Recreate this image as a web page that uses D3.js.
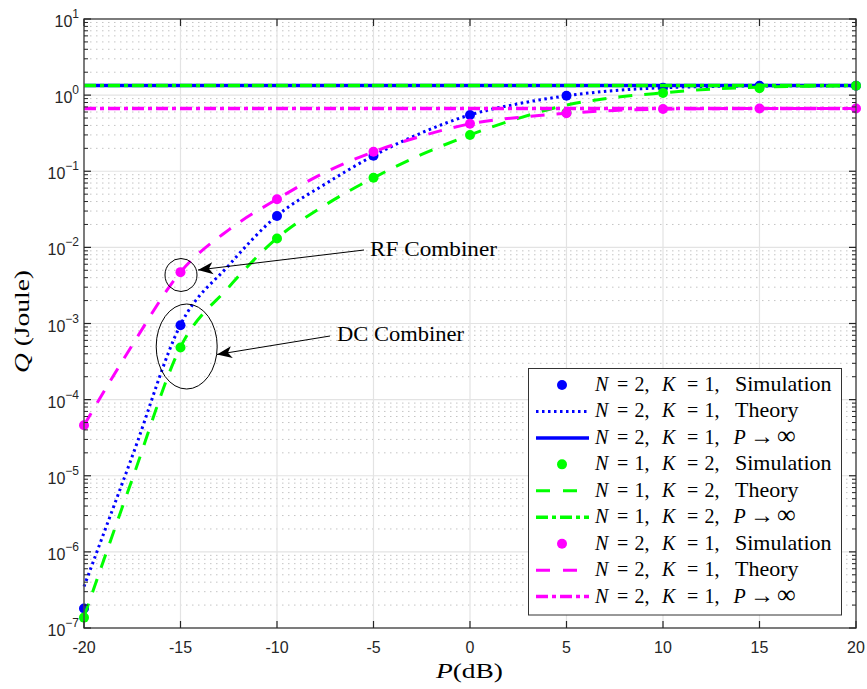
<!DOCTYPE html>
<html>
<head>
<meta charset="utf-8">
<script src="https://cdn.jsdelivr.net/npm/d3@7"></script>
<style>
  body { margin: 0; background: #fff; }
  svg { display: block; }
</style>
</head>
<body>
<svg id="chart" width="867" height="689"></svg>
<script>
// ---- data -------------------------------------------------------------
// transmit power P (dB) at which the simulation was run
const pSim = [-20, -15, -10, -5, 0, 5, 10, 15, 20];
// power grid for the analytical curves
const pTheory = [-20, -17.5, -15, -12.5, -10, -7.5, -5, -2.5, 0, 2.5, 5, 7.5, 10, 12.5, 15, 17.5, 20];

// N = 2, K = 1 (DC combiner)
const simN2K1    = [1.8e-7, 9.5e-4, 0.0258, 0.16, 0.548, 0.98, 1.25, 1.33, 1.33];
const theoryN2K1 = [3.5e-7, 1.8e-5, 9.6e-4, 5.8e-3, 0.026, 0.068, 0.16, 0.32, 0.55, 0.77, 0.98, 1.15, 1.25, 1.30, 1.32, 1.33, 1.333];
const limitN2K1  = 1.333;

// N = 1, K = 2 (DC combiner)
const simN1K2    = [1.37e-7, 4.85e-4, 0.0131, 0.082, 0.299, 0.59, 1.07, 1.23, 1.33];
const theoryN1K2 = [1.4e-7, 9e-6, 4.9e-4, 3.0e-3, 0.0132, 0.036, 0.082, 0.166, 0.30, 0.495, 0.74, 0.93, 1.07, 1.20, 1.27, 1.31, 1.333];
const limitN1K2  = 1.333;

// N = 2, K = 1 (RF combiner)
const simRF    = [4.6e-5, 4.73e-3, 0.0428, 0.18, 0.42, 0.577, 0.657, 0.667, 0.667];
const theoryRF = [4.6e-5, 5.2e-4, 4.73e-3, 0.017, 0.043, 0.097, 0.18, 0.29, 0.42, 0.51, 0.577, 0.63, 0.655, 0.664, 0.667, 0.667, 0.667];
const limitRF  = 0.667;

const xTickValues = [-20, -15, -10, -5, 0, 5, 10, 15, 20];
const yDecadeExps = [-7, -6, -5, -4, -3, -2, -1, 0, 1];

const legendN    = [2, 2, 2, 1, 1, 1, 2, 2, 2];
const legendK    = [1, 1, 1, 2, 2, 2, 1, 1, 1];
const legendKind = ["Simulation", "Theory", "limit", "Simulation", "Theory", "limit", "Simulation", "Theory", "limit"];

// ---- layout -----------------------------------------------------------
const svg = d3.select("#chart");
const L = 84, R = 856, T = 19, B = 628;
const x = d3.scaleLinear().domain([-20, 20]).range([L, R]);
const y = d3.scaleLog().domain([1e-7, 10]).range([B, T]);

const serif = "'Liberation Serif', 'Times New Roman', serif";
const sans = "'Liberation Sans', Arial, Helvetica, sans-serif";
const axisColor = "#262626";

const BLUE = "#0000ff", GREEN = "#00ff00", MAGENTA = "#ff00ff";
const styles = {
  dotted:  { width: 3,   dash: "2.5,3.5" },
  dashed:  { width: 3,   dash: "14,12" },
  solid:   { width: 3.5, dash: null },
  dashdot: { width: 3.5, dash: "12,4,4,4" }
};

svg.append("rect").attr("width", 867).attr("height", 689).attr("fill", "#fff");

// ---- grid -------------------------------------------------------------
const grid = svg.append("g");
const minorVals = [];
yDecadeExps.slice(0, -1).forEach(e => {
  for (let m = 2; m <= 9; m++) minorVals.push(m * Math.pow(10, e));
});
grid.selectAll("line.minor").data(minorVals).join("line")
  .attr("x1", L).attr("x2", R)
  .attr("y1", d => y(d)).attr("y2", d => y(d))
  .attr("stroke", "#c4c4c4").attr("stroke-width", 1)
  .attr("stroke-dasharray", "1.5,4.5");
grid.selectAll("line.majy").data(yDecadeExps).join("line")
  .attr("x1", L).attr("x2", R)
  .attr("y1", d => y(Math.pow(10, d))).attr("y2", d => y(Math.pow(10, d)))
  .attr("stroke", "#e3e3e3").attr("stroke-width", 1.2);
grid.selectAll("line.majx").data(xTickValues).join("line")
  .attr("x1", d => x(d)).attr("x2", d => x(d))
  .attr("y1", T).attr("y2", B)
  .attr("stroke", "#e3e3e3").attr("stroke-width", 1.2);

// ---- series -----------------------------------------------------------
const plot = svg.append("g");
const line = d3.line()
  .x(d => x(d[0])).y(d => y(d[1]))
  .curve(d3.curveMonotoneX);

function drawSeries(sim, theory, limit, color, theoryStyle) {
  plot.append("g").selectAll("circle").data(pSim.map((p, i) => [p, sim[i]])).join("circle")
    .attr("cx", d => x(d[0])).attr("cy", d => y(d[1])).attr("r", 5)
    .attr("fill", color);
  const st = styles[theoryStyle];
  plot.append("path")
    .datum(pTheory.map((p, i) => [p, theory[i]]))
    .attr("d", line).attr("fill", "none")
    .attr("stroke", color).attr("stroke-width", st.width)
    .attr("stroke-dasharray", st.dash);
  const ls = color === BLUE ? styles.solid : styles.dashdot;
  plot.append("path")
    .datum([[-20, limit], [20, limit]])
    .attr("d", line).attr("fill", "none")
    .attr("stroke", color).attr("stroke-width", ls.width)
    .attr("stroke-dasharray", ls.dash);
}
drawSeries(simN2K1, theoryN2K1, limitN2K1, BLUE, "dotted");
drawSeries(simN1K2, theoryN1K2, limitN1K2, GREEN, "dashed");
drawSeries(simRF, theoryRF, limitRF, MAGENTA, "dashed");

// ---- axes box, ticks and labels --------------------------------------
const ax = svg.append("g");
ax.append("rect").attr("x", L).attr("y", T).attr("width", R - L).attr("height", B - T)
  .attr("fill", "none").attr("stroke", "#4a4a4a").attr("stroke-width", 1.4);

xTickValues.forEach(v => {
  ax.append("line").attr("x1", x(v)).attr("x2", x(v)).attr("y1", B).attr("y2", B - 7)
    .attr("stroke", axisColor).attr("stroke-width", 1.2);
  ax.append("line").attr("x1", x(v)).attr("x2", x(v)).attr("y1", T).attr("y2", T + 7)
    .attr("stroke", axisColor).attr("stroke-width", 1.2);
  ax.append("text").attr("x", x(v)).attr("y", 653)
    .attr("text-anchor", "middle").attr("font-family", sans).attr("font-size", 16)
    .attr("fill", axisColor).text(v);
});

yDecadeExps.forEach(e => {
  const yy = y(Math.pow(10, e));
  [[L, L + 7], [R, R - 7]].forEach(([a, b]) =>
    ax.append("line").attr("x1", a).attr("x2", b).attr("y1", yy).attr("y2", yy)
      .attr("stroke", axisColor).attr("stroke-width", 1.2));
  const t = ax.append("text").attr("x", 79).attr("y", yy + 8)
    .attr("text-anchor", "end").attr("font-family", sans).attr("font-size", 16)
    .attr("fill", axisColor);
  t.append("tspan").text("10");
  t.append("tspan").attr("dy", -9).attr("font-size", 12).text(e < 0 ? "\u2212" + (-e) : String(e));
});
minorVals.forEach(v => {
  const yy = y(v);
  [[L, L + 4], [R, R - 4]].forEach(([a, b]) =>
    ax.append("line").attr("x1", a).attr("x2", b).attr("y1", yy).attr("y2", yy)
      .attr("stroke", axisColor).attr("stroke-width", 1));
});

// axis titles
const xt = svg.append("text").attr("x", 436).attr("y", 678)
  .attr("font-family", serif).attr("font-size", 21).attr("fill", "#000")
  .attr("textLength", 67).attr("lengthAdjust", "spacingAndGlyphs");
xt.append("tspan").attr("font-style", "italic").text("P");
xt.append("tspan").text("(dB)");

const yt = svg.append("text").attr("transform", "translate(29,373) rotate(-90)")
  .attr("font-family", serif).attr("font-size", 21).attr("fill", "#000")
  .attr("textLength", 103).attr("lengthAdjust", "spacingAndGlyphs");
yt.append("tspan").attr("font-style", "italic").text("Q");
yt.append("tspan").text(" (Joule)");

// ---- annotations --------------------------------------------------------
const ann = svg.append("g");
function arrow(sx, sy, tx, ty) {
  ann.append("line").attr("x1", sx).attr("y1", sy).attr("x2", tx).attr("y2", ty)
    .attr("stroke", "#000").attr("stroke-width", 1);
  const len = Math.hypot(sx - tx, sy - ty);
  const ux = (sx - tx) / len, uy = (sy - ty) / len;
  const nx = -uy, ny = ux;
  const hl = 15, hw = 6, notch = 4;
  const pts = [
    [tx, ty],
    [tx + ux * hl + nx * hw, ty + uy * hl + ny * hw],
    [tx + ux * (hl - notch), ty + uy * (hl - notch)],
    [tx + ux * hl - nx * hw, ty + uy * hl - ny * hw]
  ];
  ann.append("path").attr("d", "M" + pts.map(p => p.join(",")).join("L") + "Z")
    .attr("fill", "#000");
}
ann.append("ellipse").attr("cx", 181).attr("cy", 275).attr("rx", 16).attr("ry", 16.5)
  .attr("fill", "none").attr("stroke", "#000").attr("stroke-width", 1);
ann.append("ellipse").attr("cx", 186.7).attr("cy", 346.5).attr("rx", 30.5).attr("ry", 42.5)
  .attr("fill", "none").attr("stroke", "#000").attr("stroke-width", 1);
arrow(364, 250, 198, 270);
arrow(330, 336, 217, 354.5);
ann.append("text").attr("x", 370).attr("y", 256)
  .attr("font-family", serif).attr("font-size", 20)
  .attr("textLength", 127).attr("lengthAdjust", "spacingAndGlyphs").text("RF Combiner");
ann.append("text").attr("x", 337).attr("y", 341)
  .attr("font-family", serif).attr("font-size", 20)
  .attr("textLength", 127).attr("lengthAdjust", "spacingAndGlyphs").text("DC Combiner");

// ---- legend -------------------------------------------------------------
const lg = svg.append("g");
lg.append("rect").attr("x", 528.5).attr("y", 368.5).attr("width", 313).attr("height", 246.5)
  .attr("fill", "#fff").attr("stroke", "#333").attr("stroke-width", 1);
const legendColors = [BLUE, BLUE, BLUE, GREEN, GREEN, GREEN, MAGENTA, MAGENTA, MAGENTA];
legendKind.forEach((kind, i) => {
  const cy = 385 + i * 26.45;
  const col = legendColors[i];
  if (kind === "Simulation") {
    lg.append("circle").attr("cx", 562).attr("cy", cy).attr("r", 5).attr("fill", col);
  } else {
    const st = kind === "Theory" ? (col === BLUE ? styles.dotted : styles.dashed)
                                 : (col === BLUE ? styles.solid : styles.dashdot);
    lg.append("line").attr("x1", 536).attr("x2", 589).attr("y1", cy).attr("y2", cy)
      .attr("stroke", col).attr("stroke-width", st.width)
      .attr("stroke-dasharray", kind === "Theory" && col !== BLUE ? "14,13" : st.dash);
  }
  // one text element per entry, with math-style spacing between the pieces
  const x0 = 595;
  const t = lg.append("text").attr("y", cy + 6)
    .attr("font-family", serif).attr("font-size", 20).attr("fill", "#000");
  const piece = (dx, str, italic) =>
    t.append("tspan").attr("x", x0 + dx)
      .attr("font-style", italic ? "italic" : "normal").text(str);
  piece(0, "N", true);
  piece(22, "=", false);
  piece(39.5, String(legendN[i]) + ",", false);
  piece(67, "K", true);
  piece(92, "=", false);
  piece(109.5, String(legendK[i]) + ",", false);
  if (kind === "Simulation") piece(140, "Simulation", false).attr("font-size", 22);
  else if (kind === "Theory") piece(140, "Theory", false).attr("font-size", 22);
  else {
    piece(138.5, "P", true);
    piece(155, "\u2192", false).attr("font-size", 24);
    piece(182, "\u221e", false).attr("font-size", 26);
  }
});
</script>
</body>
</html>
